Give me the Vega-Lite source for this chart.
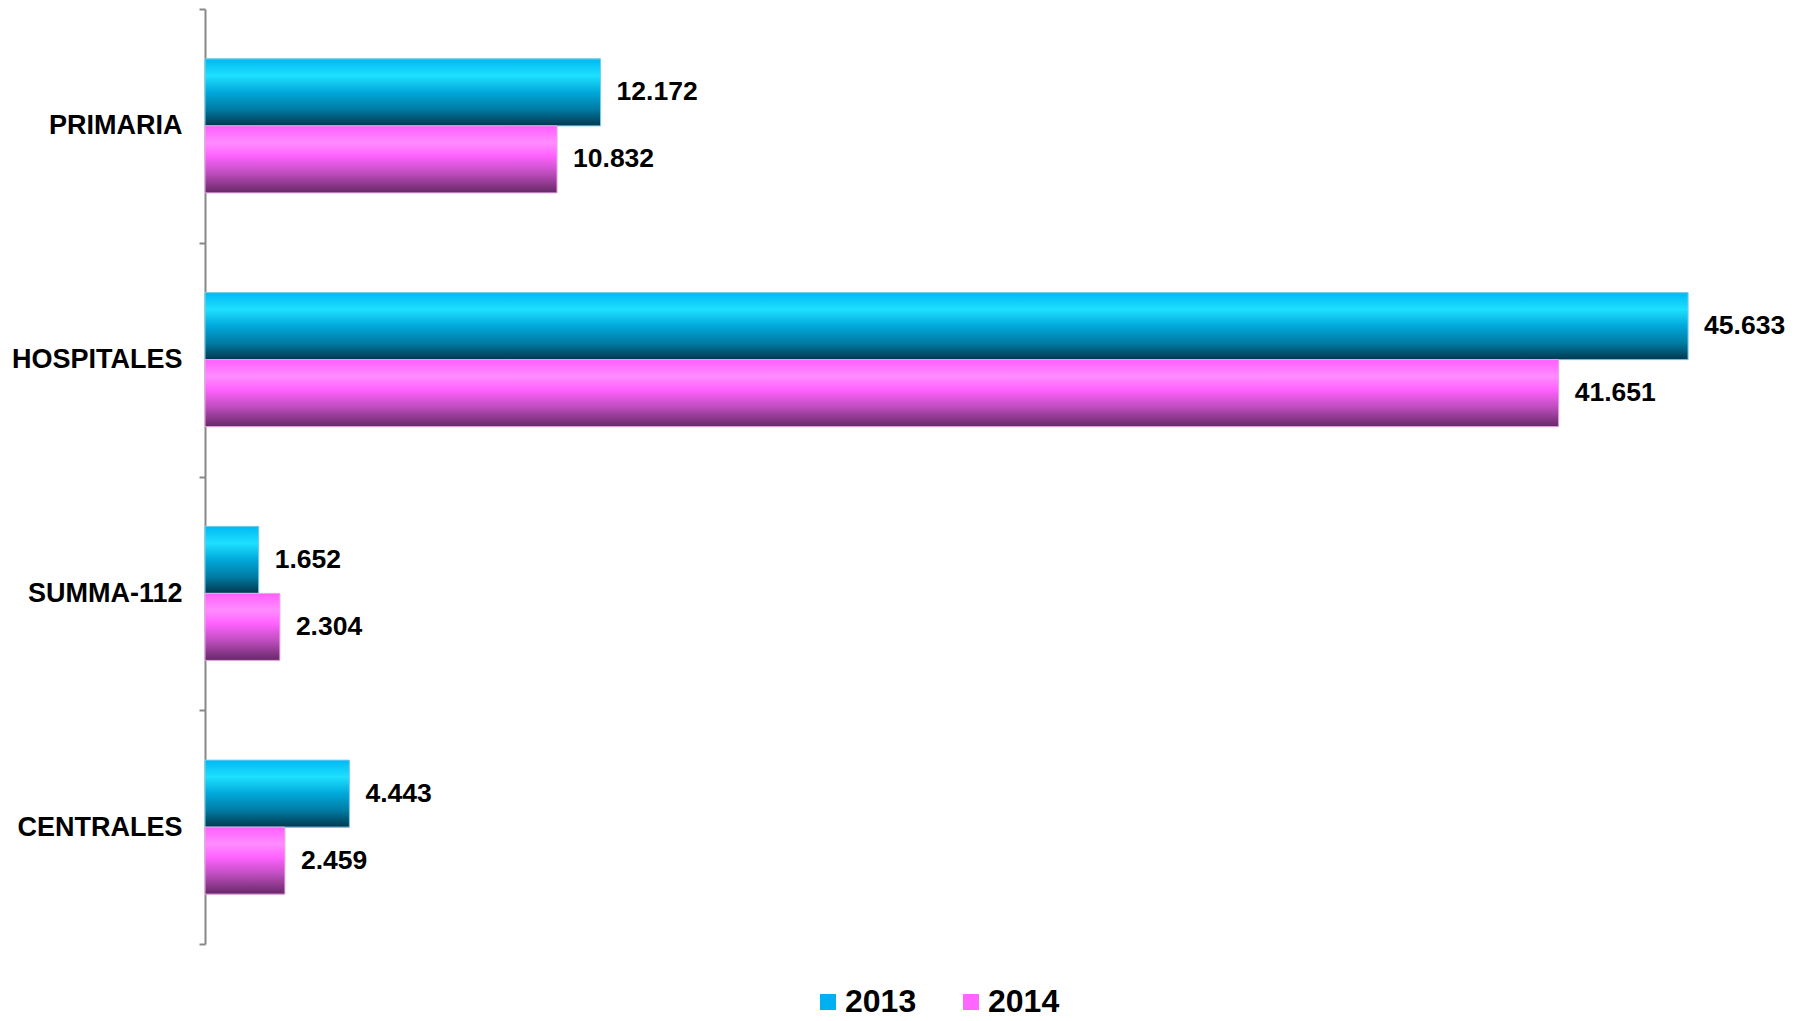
{
  "$schema": "https://vega.github.io/schema/vega-lite/v6.json",
  "width": 1560,
  "height": 935,
  "autosize": {"type": "none"},
  "padding": {"left": 205, "top": 9, "right": 39, "bottom": 77},
  "background": "white",
  "config": {"view": {"stroke": null}, "font": "Liberation Sans"},
  "data": {
    "values": [
      {"category": "PRIMARIA", "year": "2013", "value": 12.172},
      {"category": "PRIMARIA", "year": "2014", "value": 10.832},
      {"category": "HOSPITALES", "year": "2013", "value": 45.633},
      {"category": "HOSPITALES", "year": "2014", "value": 41.651},
      {"category": "SUMMA-112", "year": "2013", "value": 1.652},
      {"category": "SUMMA-112", "year": "2014", "value": 2.304},
      {"category": "CENTRALES", "year": "2013", "value": 4.443},
      {"category": "CENTRALES", "year": "2014", "value": 2.459}
    ]
  },
  "encoding": {
    "y": {
      "field": "category",
      "type": "nominal",
      "sort": ["PRIMARIA", "HOSPITALES", "SUMMA-112", "CENTRALES"],
      "scale": {"paddingInner": 0, "paddingOuter": 0},
      "title": null,
      "axis": {
        "grid": false,
        "domainColor": "#888888",
        "domainWidth": 2,
        "tickColor": "#888888",
        "tickWidth": 2,
        "tickSize": 6,
        "tickBand": "extent",
        "labelFont": "Liberation Sans",
        "labelFontSize": 27,
        "labelFontWeight": "bold",
        "labelColor": "black",
        "labelPadding": 17
      }
    },
    "yOffset": {
      "field": "year",
      "type": "nominal",
      "sort": ["2013", "2014"],
      "scale": {"paddingInner": 0, "paddingOuter": 0.744}
    },
    "x": {
      "field": "value",
      "type": "quantitative",
      "scale": {"domain": [0, 48], "nice": false},
      "axis": null
    }
  },
  "layer": [
    {
      "mark": {"type": "bar"},
      "encoding": {
        "color": {
          "field": "year",
          "type": "nominal",
          "scale": {"domain": ["2013", "2014"], "range": ["#00B0F0", "#FF66FF"]},
          "legend": {
            "orient": "none",
            "legendX": 607,
            "legendY": 977,
            "direction": "horizontal",
            "title": null,
            "symbolType": "square",
            "symbolSize": 256,
            "symbolStrokeWidth": 0,
            "labelFont": "Liberation Sans",
            "labelFontSize": 32,
            "labelFontWeight": "bold",
            "labelColor": "black",
            "labelOffset": 1,
            "columnPadding": 38
          }
        }
      }
    },
    {
      "mark": {"type": "bar", "strokeWidth": 1},
      "encoding": {
        "fill": {
          "condition": {
            "test": "datum.year === '2013'",
            "value": {
              "gradient": "linear", "x1": 0, "y1": 0, "x2": 0, "y2": 1,
              "stops": [
                {"offset": 0, "color": "#00B8F2"},
                {"offset": 0.25, "color": "#1EE0FF"},
                {"offset": 0.5, "color": "#00A8DA"},
                {"offset": 0.75, "color": "#007CA4"},
                {"offset": 1, "color": "#00384E"}
              ]
            }
          },
          "value": {
            "gradient": "linear", "x1": 0, "y1": 0, "x2": 0, "y2": 1,
            "stops": [
              {"offset": 0, "color": "#FF5EFF"},
              {"offset": 0.25, "color": "#FF8CFF"},
              {"offset": 0.45, "color": "#FF62FF"},
              {"offset": 0.7, "color": "#C04EC0"},
              {"offset": 1, "color": "#662866"}
            ]
          }
        },
        "stroke": {
          "condition": {"test": "datum.year === '2013'", "value": "#7CCFE8"},
          "value": "#E7A8E7"
        }
      }
    },
    {
      "mark": {
        "type": "text",
        "align": "left",
        "baseline": "middle",
        "dx": 16,
        "font": "Liberation Sans",
        "fontSize": 26.5,
        "fontWeight": "bold",
        "color": "black"
      },
      "encoding": {
        "text": {"field": "value", "type": "quantitative", "format": ".3f"}
      }
    }
  ]
}
